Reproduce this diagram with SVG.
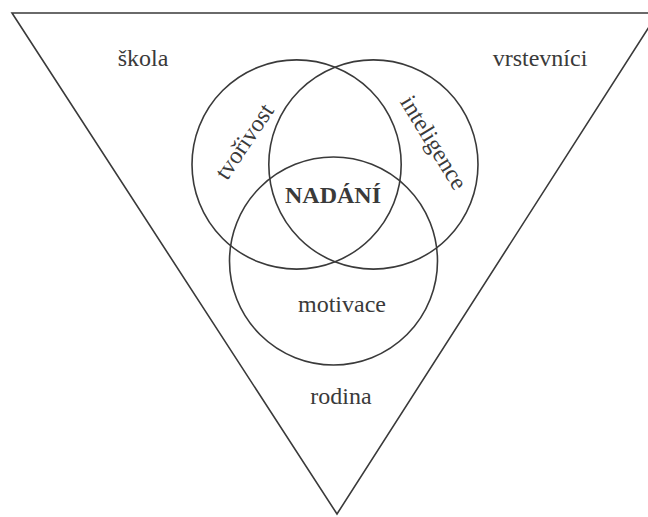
<svg xmlns="http://www.w3.org/2000/svg" width="648" height="517" viewBox="0 0 648 517">
<style>
.ln{fill:none;stroke:#3a3a3a;stroke-width:1.6}
.t{font-family:"Liberation Serif","Times New Roman",serif;font-size:24px;fill:#3a3a3a;text-anchor:middle}
.b{font-weight:bold}
</style>
<rect width="648" height="517" fill="#ffffff"/>
<g id="triangle">
<polygon class="ln" points="12,13 658,13 337,514"/>
</g>
<g id="circle-tvorivost"><circle class="ln" cx="296.6" cy="164.5" r="104.6"/></g>
<g id="circle-inteligence"><circle class="ln" cx="373.4" cy="164.5" r="104.6"/></g>
<g id="circle-motivace"><circle class="ln" cx="333.5" cy="261" r="104"/></g>
<g id="labels">
<text class="t" x="143" y="66">škola</text>
<text class="t" x="540" y="66">vrstevníci</text>
<text class="t" transform="translate(245,142) rotate(-56)" y="7">tvořivost</text>
<text class="t" transform="translate(433,143) rotate(58.5)" y="7">inteligence</text>
<text class="t b" x="333" y="203">NADÁNÍ</text>
<text class="t" x="342" y="312">motivace</text>
<text class="t" x="341" y="404">rodina</text>
</g>
</svg>
